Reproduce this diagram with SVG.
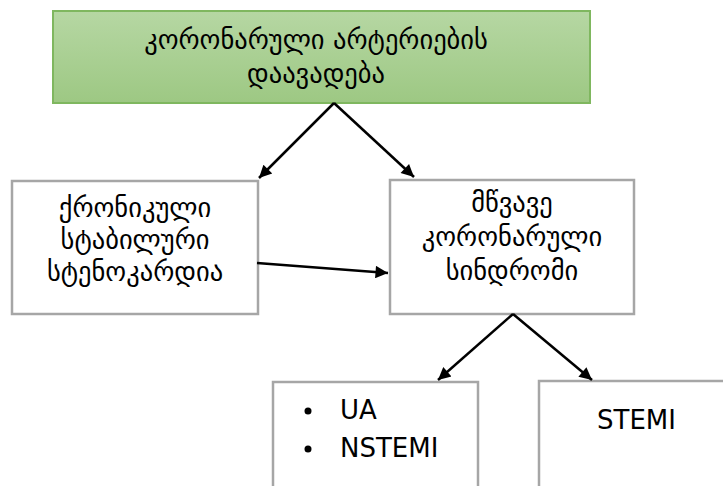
<svg xmlns="http://www.w3.org/2000/svg" width="723" height="486" viewBox="0 0 723 486">
<defs>
<linearGradient id="g" x1="0" y1="0" x2="0" y2="1">
<stop offset="0" stop-color="#b6d7a3"/>
<stop offset="1" stop-color="#9dc883"/>
</linearGradient>
<marker id="ah" viewBox="0 0 10 10" refX="10" refY="5" markerWidth="6" markerHeight="5" markerUnits="strokeWidth" orient="auto">
<path d="M0,0 L10,5 L0,10 z" fill="#000"/>
</marker>
</defs>
<style>
.box{fill:#fff;stroke:#a6a6a6;stroke-width:2.5}
.t{font-family:"DejaVu Sans","Noto Sans",sans-serif;font-size:26.5px;fill:#000;text-anchor:middle}
.l{font-family:"DejaVu Sans","Liberation Sans",sans-serif;font-size:26px;fill:#000}
.c{stroke:#000;stroke-width:2.5;fill:none;marker-end:url(#ah)}
</style>
<g id="top">
<rect x="53" y="11" width="537" height="92" fill="url(#g)" stroke="#7fb75f" stroke-width="2"/>
<text class="t" x="316" y="49">კორონარული არტერიების</text>
<text class="t" x="316" y="83">დაავადება</text>
</g>
<g id="chronic">
<rect class="box" x="12" y="181" width="246" height="133"/>
<text class="t" x="135" y="217">ქრონიკული</text>
<text class="t" x="135" y="249">სტაბილური</text>
<text class="t" x="135" y="281">სტენოკარდია</text>
</g>
<g id="acs">
<rect class="box" x="390" y="180" width="244" height="134"/>
<text class="t" x="512" y="212">მწვავე</text>
<text class="t" x="512" y="246">კორონარული</text>
<text class="t" x="512" y="280">სინდრომი</text>
</g>
<g id="ua">
<rect class="box" x="273" y="382" width="205" height="120"/>
<circle cx="308" cy="411" r="3.5" fill="#000"/>
<text class="l" x="340" y="419">UA</text>
<circle cx="308" cy="449" r="3.5" fill="#000"/>
<text class="l" x="340" y="457">NSTEMI</text>
</g>
<g id="stemi">
<rect class="box" x="539" y="381" width="200" height="120"/>
<text class="l" x="597" y="429">STEMI</text>
</g>
<g id="connectors">
<line class="c" x1="334" y1="103" x2="259" y2="178"/>
<line class="c" x1="334" y1="103" x2="414" y2="177"/>
<line class="c" x1="257" y1="263" x2="388" y2="273"/>
<line class="c" x1="513" y1="314" x2="438" y2="380"/>
<line class="c" x1="513" y1="314" x2="592" y2="380"/>
</g>
</svg>
